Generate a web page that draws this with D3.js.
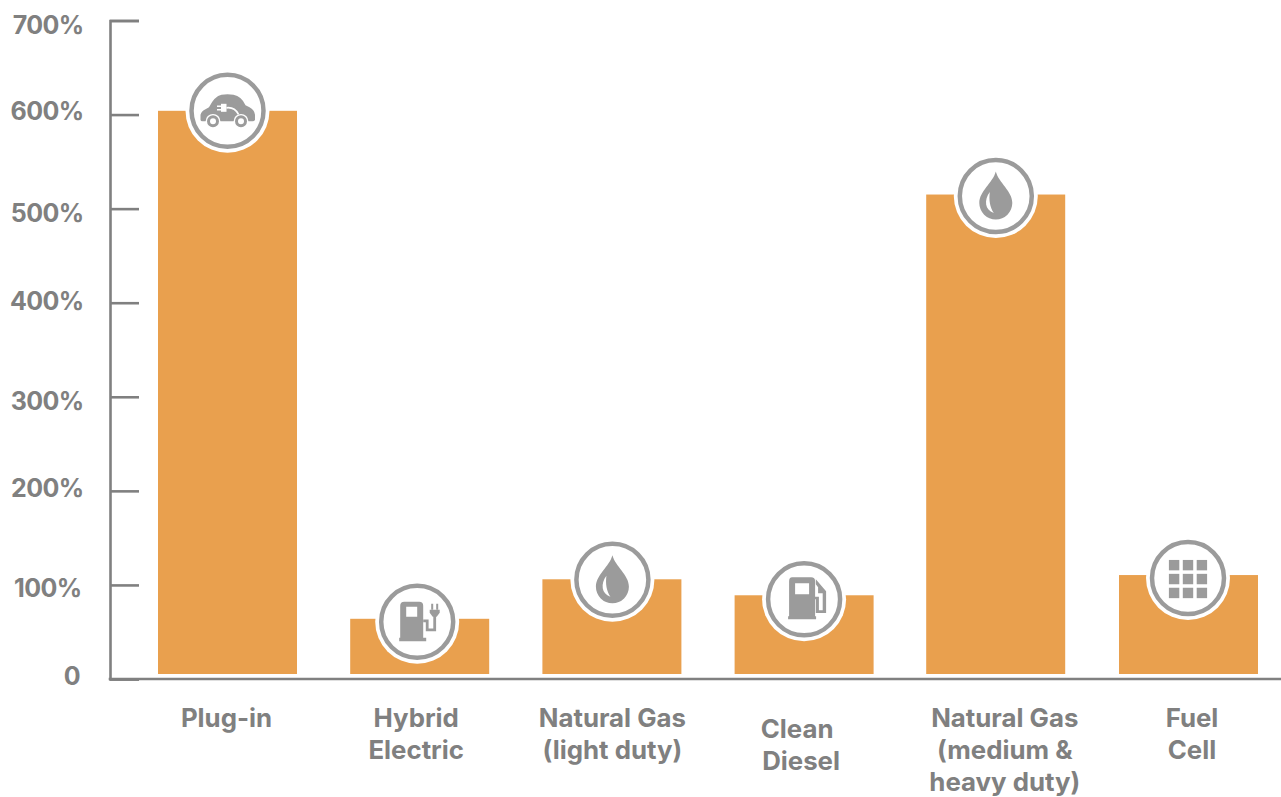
<!DOCTYPE html>
<html><head><meta charset="utf-8">
<script src="https://cdn.jsdelivr.net/npm/d3@7"></script>
<style>html,body{margin:0;padding:0;background:#fff;overflow:hidden}svg{display:block}
text{font-family:Inter,sans-serif;font-weight:700;fill:#808080}</style></head>
<body><svg id="c" width="1281" height="797"></svg>
<script>
const categories = ["Plug-in","Hybrid Electric","Natural Gas (light duty)","Clean Diesel","Natural Gas (medium & heavy duty)","Fuel Cell"];
const labelLines = [["Plug-in"],["Hybrid","Electric"],["Natural Gas","(light duty)"],["Clean","Diesel"],["Natural Gas","(medium &","heavy duty)"],["Fuel","Cell"]];
const values = [604,64,106,89,515,110.5];
const tickValues = [0,100,200,300,400,500,600,700];
const tickLabels = ["0","100%","200%","300%","400%","500%","600%","700%"];
const icons = ["car","hybridPump","drop","pump","drop","grid"];

// layout (not data)
const W=1281,H=797;
const tickNudge=[-4,3,-3,4,-2,4,-4,4];
const tickRight=[80,81.5,83.5,83.5,83.5,83.5,83.5,83.5];
const iconDx=[0,-2.5,0.5,0,-0.5,-0.5], iconDy=[0,3,0.5,4,1.5,3];
const labelDx=[-1,-3.5,0.5,-3,8.5,3.5], labelDy=[0,0,0,11,0,0];
const lineDx={"Clean":-4};

const svg=d3.select("#c");
const x=d3.scaleBand().domain(categories).range([158,1258]).paddingInner(1-139/192.2);
const y=d3.scaleLinear().domain([0,700]).range([679,20.5]);
const barBottom=y(0)-5;
const orange="#e9a04e", grey="#9b9b9b", axisC="#808080";

svg.selectAll("rect.bar").data(values).join("rect").attr("class","bar")
 .attr("x",(d,i)=>x(categories[i])-(i==4?0.6:0)).attr("width",x.bandwidth())
 .attr("y",d=>y(d)).attr("height",d=>barBottom-y(d)).attr("fill",orange);

// axes
const yAxis=d3.axisLeft(y).tickValues(tickValues).tickSize(-29).tickPadding(0).tickFormat("");
const gy=svg.append("g").attr("transform","translate(110,0)").call(yAxis);
gy.select(".domain").attr("stroke",axisC).attr("stroke-width",2.6);
gy.selectAll(".tick line").attr("stroke",axisC).attr("stroke-width",2.6);
svg.append("line").attr("x1",108.7).attr("x2",W).attr("y1",y(0)).attr("y2",y(0)).attr("stroke",axisC).attr("stroke-width",2.6);

svg.selectAll("text.yl").data(tickLabels).join("text").attr("class","yl")
 .attr("x",(d,i)=>tickRight[i]).attr("y",(d,i)=>y(tickValues[i])+tickNudge[i]+9.5)
 .attr("text-anchor","end").attr("font-size",25).attr("letter-spacing",-0.6).text(d=>d);

// x labels
categories.forEach((c,i)=>{
  const cx=x(c)+x.bandwidth()/2+labelDx[i];
  labelLines[i].forEach((t,j)=>svg.append("text").attr("x",cx+(lineDx[t]||0)).attr("y",727+labelDy[i]+j*32)
    .attr("text-anchor","middle").attr("font-size",25.8).text(t));
});

// icons
const draw={
 car(g){
  g.append("path").attr("fill",grey)
   .attr("d","M-27,9 L-27,4 Q-26,0 -22,-1.5 L-18.5,-3.5 Q-13,-14.5 -6,-16 Q0,-17 6,-16 Q14,-14.5 18,-5.5 L22,-3.5 Q27,-1 27.5,4 L27.5,9 Q27,10.5 25,10.5 L-25,10.5 Q-27,10.5 -27,9 Z");
  [-14.5,13.5].forEach(cx=>{
   g.append("circle").attr("cx",cx).attr("cy",10.5).attr("r",7.4).attr("fill","#fff");
   g.append("circle").attr("cx",cx).attr("cy",10.5).attr("r",4.5).attr("fill","#fff").attr("stroke",grey).attr("stroke-width",3);
  });
  g.append("path").attr("fill","none").attr("stroke","#fff").attr("stroke-width",1.7).attr("d","M-1,-3 Q7,-4 11,3.5");
  g.append("rect").attr("x",-6.5).attr("y",-7).attr("width",5.5).attr("height",8).attr("fill","#fff");
  g.append("path").attr("stroke","#fff").attr("stroke-width",1.5).attr("d","M-6.5,-4.5 h-4 M-6.5,-1 h-4");
 },
 hybridPump(g){
  g.append("path").attr("fill-rule","evenodd").attr("fill",grey)
   .attr("d","M-13,-20 L2,-20 Q6,-20 6,-16 L6,16 L9,16 L9,19.5 L-18,19.5 L-18,16 L-17,16 L-17,-16 Q-17,-20 -13,-20 Z M-11,-15 L-11,-5 L0,-5 L0,-15 Z");
  g.append("path").attr("fill","none").attr("stroke",grey).attr("stroke-width",2.8)
   .attr("d","M6,-1 L10,-1 L10,8 L17.5,8 L17.5,-6");
  g.append("path").attr("fill",grey).attr("d","M12.5,-12 L22.5,-12 L22.5,-9 L19.5,-5 L15.5,-5 L12.5,-9 Z");
  g.append("path").attr("stroke",grey).attr("stroke-width",2).attr("d","M15,-18 V-12 M20,-18 V-12");
 },
 drop(g){
  g.append("path").attr("fill",grey).attr("d","M0,-24.5 C3,-13 16.5,-5 16.5,7 A16.5,16.5 0 0 1 -16.5,7 C-16.5,-5 -3,-13 0,-24.5 Z");
  g.append("path").attr("fill","#fff").attr("d","M-6,-4 C-12,4 -11,14 -2,17 C-6,11 -7,4 -6,-4 Z");
 },
 pump(g){
  g.append("path").attr("fill-rule","evenodd").attr("fill",grey)
   .attr("d","M-12,-22 L7,-22 Q11,-22 11,-18 L11,17 L12,17 L12,20 L-16,20 L-16,17 L-15,17 L-15,-18 Q-15,-22 -12,-22 Z M-9,-16 L-9,-5 L5,-5 L5,-16 Z");
  g.append("path").attr("fill",grey)
   .attr("d","M11.7,-20 L22,-8 L22,13.7 L11.7,13.7 L11.7,0 L9,0 L9,-2.5 L14.8,-2.5 L14.8,11 L18.6,11 L18.6,-6 L14,-6 L14,-12 L11.7,-15 Z");
 },
 grid(g){
  const s=10.4,p=13.9;
  d3.range(3).forEach(r=>d3.range(3).forEach(c=>
   g.append("rect").attr("x",(c-1)*p-s/2).attr("y",(r-1)*p-s/2+1).attr("width",s).attr("height",s).attr("fill",grey)));
 }
};
categories.forEach((c,i)=>{
  const cx=x(c)+x.bandwidth()/2+iconDx[i], cy=y(values[i])+iconDy[i];
  const g=svg.append("g").attr("transform",`translate(${cx},${cy})`);
  g.append("circle").attr("r",42).attr("fill","#fff");
  g.append("circle").attr("r",36).attr("fill","#fff").attr("stroke",grey).attr("stroke-width",4.5);
  draw[icons[i]](g);
});
</script></body></html>
